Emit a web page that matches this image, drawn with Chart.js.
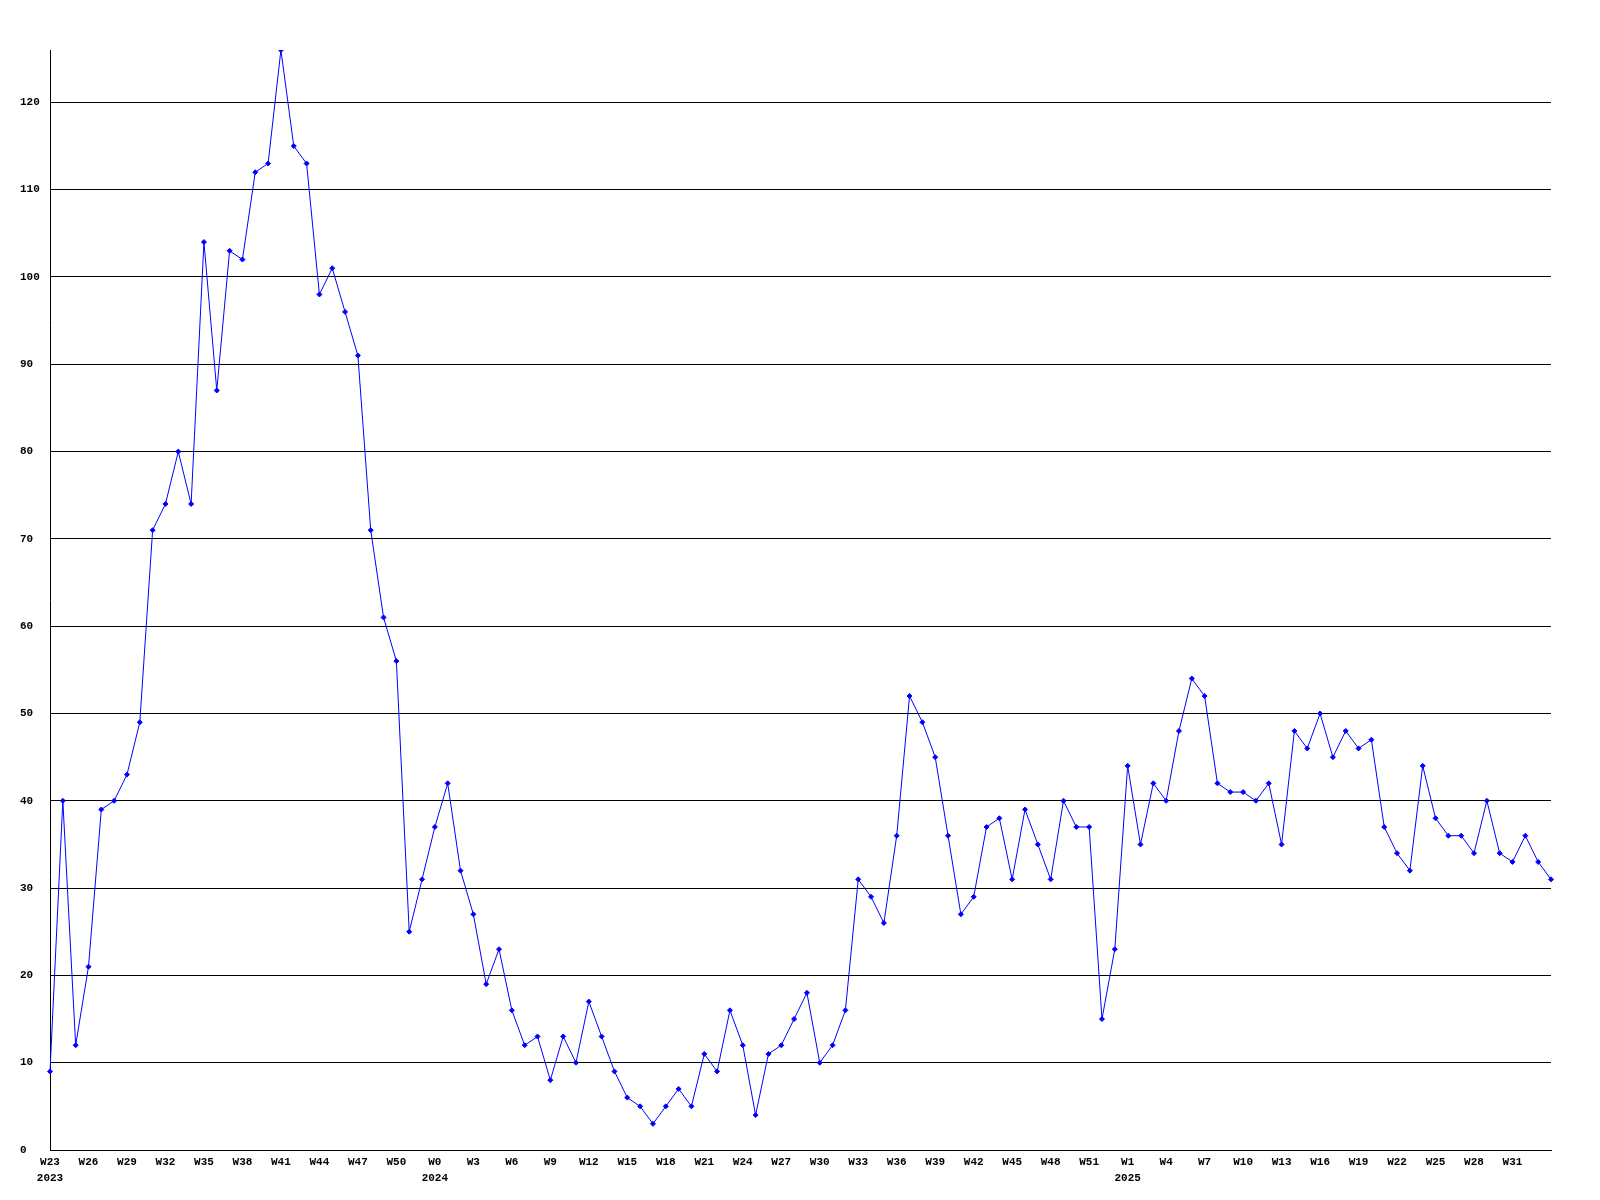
<!DOCTYPE html>
<html><head><meta charset="utf-8">
<script src="https://cdn.jsdelivr.net/npm/chart.js@4/dist/chart.umd.min.js"></script>
<style>html,body{margin:0;padding:0;background:#fff;}</style>
</head><body>
<canvas id="c" width="1600" height="1200"></canvas>
<script>
// Week series, split by year (first week number of each year's block)
const years = ['2023', '2024', '2025'];
const firstWeek = [23, 0, 0];
const values2023 = [9, 40, 12, 21, 39, 40, 43, 49, 71, 74, 80, 74, 104, 87, 103, 102, 112, 113, 126, 115, 113, 98, 101, 96, 91, 71, 61, 56, 25, 31];
const values2024 = [37, 42, 32, 27, 19, 23, 16, 12, 13, 8, 13, 10, 17, 13, 9, 6, 5, 3, 5, 7, 5, 11, 9, 16, 12, 4, 11, 12, 15, 18, 10, 12, 16, 31, 29, 26, 36, 52, 49, 45, 36, 27, 29, 37, 38, 31, 39, 35, 31, 40, 37, 37, 15];
const values2025 = [23, 44, 35, 42, 40, 48, 54, 52, 42, 41, 41, 40, 42, 35, 48, 46, 50, 45, 48, 46, 47, 37, 34, 32, 44, 38, 36, 36, 34, 40, 34, 33, 36, 33, 31];
const yTicks = [0, 10, 20, 30, 40, 50, 60, 70, 80, 90, 100, 110, 120];
const yMax = 126;
const labelEvery = 3;

const blocks = [values2023, values2024, values2025];
const weekLabels = [];
const yearOf = [];
const values = [];
blocks.forEach((arr, b) => {
  arr.forEach((v, i) => {
    weekLabels.push('W' + (firstWeek[b] + i));
    yearOf.push(years[b]);
    values.push(v);
  });
});

const shownYear = {};
const tickText = weekLabels.map((w, i) => {
  if (i % labelEvery !== 0 || i === weekLabels.length - 1) return '';
  if (!shownYear[yearOf[i]]) {
    shownYear[yearOf[i]] = true;
    return [w, yearOf[i]];
  }
  return w;
});

const font = { family: '"Liberation Mono", "DejaVu Sans Mono", monospace', size: 11, weight: 'bold', lineHeight: 1.4 };

new Chart(document.getElementById('c'), {
  type: 'line',
  data: {
    labels: weekLabels,
    datasets: [{
      data: values,
      borderColor: '#0000ff',
      borderWidth: 1,
      tension: 0,
      fill: false,
      pointStyle: 'rectRot',
      pointRadius: 2.5,
      pointBorderWidth: 1,
      pointBackgroundColor: '#0000ff',
      pointBorderColor: '#0000ff'
    }]
  },
  options: {
    responsive: false,
    animation: false,
    devicePixelRatio: 1,
    layout: { padding: { left: 20, top: 50, right: 49, bottom: 0 } },
    plugins: { legend: { display: false }, tooltip: { enabled: false } },
    scales: {
      x: {
        type: 'category',
        offset: false,
        grid: { display: false, drawTicks: false },
        border: { display: true, color: '#000', width: 1 },
        ticks: {
          autoSkip: false,
          maxRotation: 0,
          minRotation: 0,
          padding: 5,
          color: '#000',
          font: font,
          callback: (v, i) => tickText[i]
        },
        afterFit: s => { s.height = 50; }
      },
      y: {
        type: 'linear',
        min: 0,
        max: yMax,
        afterBuildTicks: s => { s.ticks = yTicks.map(v => ({ value: v })); },
        grid: { color: '#000', lineWidth: 1, drawTicks: false },
        border: { display: true, color: '#000', width: 1 },
        ticks: { color: '#000', font: font, crossAlign: 'far', padding: 0 },
        afterFit: s => { s.width = 30; }
      }
    }
  }
});
</script>
</body></html>
